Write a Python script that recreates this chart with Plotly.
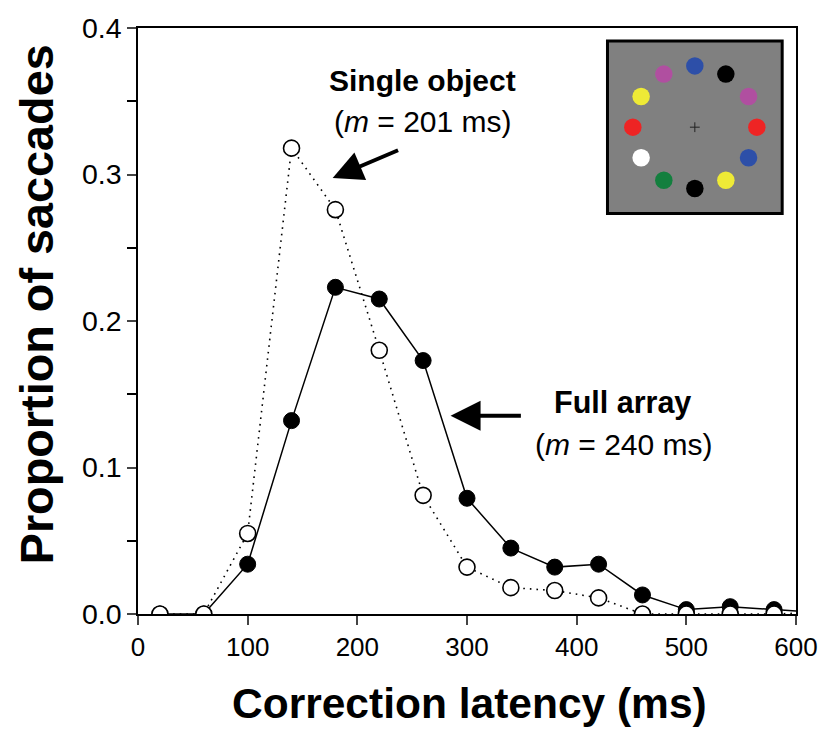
import plotly.graph_objects as go
import math

# ---- data ----
latency = [20, 60, 100, 140, 180, 220, 260, 300, 340, 380, 420, 460, 500, 540, 580, 620]
full_array = [0.0, 0.0, 0.034, 0.132, 0.223, 0.215, 0.173, 0.079, 0.045, 0.032, 0.034, 0.013, 0.003, 0.005, 0.003, 0.001]
single_object = [0.0, 0.0, 0.055, 0.318, 0.276, 0.180, 0.081, 0.032, 0.018, 0.016, 0.011, 0.0, 0.0, 0.0, 0.0, 0.001]

x_ticks = [0, 100, 200, 300, 400, 500, 600]
y_ticks = [0.0, 0.1, 0.2, 0.3, 0.4]

# inset stimulus display: 12 items clockwise from top
inset_angles_deg = [0, 30, 60, 90, 120, 150, 180, 210, 240, 270, 300, 330]
inset_colors = ["#2d4fa8", "#000000", "#b04fa0", "#ee2424", "#2d4fa8", "#eeea36",
                "#000000", "#137f3e", "#ffffff", "#ee2424", "#eeea36", "#b04fa0"]

FONT = "Liberation Sans, Arial, sans-serif"

ring_r = 0.71
inset_x = [ring_r * math.sin(math.radians(a)) for a in inset_angles_deg]
inset_y = [ring_r * math.cos(math.radians(a)) for a in inset_angles_deg]

fig = go.Figure()

fig.add_trace(go.Scatter(
    x=latency, y=full_array, mode="lines+markers", name="Full array",
    line=dict(color="black", width=1.5),
    marker=dict(size=16, color="black", line=dict(color="black", width=1)),
))
fig.add_trace(go.Scatter(
    x=latency, y=single_object, mode="lines+markers", name="Single object",
    line=dict(color="black", width=1.6, dash="1.6px,5px"),
    marker=dict(size=16, color="white", line=dict(color="black", width=1.6)),
))

# inset
fig.add_trace(go.Scatter(
    x=inset_x, y=inset_y, mode="markers", xaxis="x2", yaxis="y2",
    marker=dict(size=17.5, color=inset_colors, line=dict(width=0)),
    showlegend=False, hoverinfo="skip",
))
fig.add_trace(go.Scatter(
    x=[0], y=[0], mode="markers", xaxis="x2", yaxis="y2",
    marker=dict(size=7, symbol="cross-thin", color="black", line=dict(width=1, color="#222")),
    showlegend=False, hoverinfo="skip",
))

fig.add_shape(type="rect", xref="x2 domain", yref="y2 domain", x0=0, x1=1, y0=0, y1=1,
              fillcolor="#808080", line=dict(color="black", width=3), layer="below")

annotations = [
    dict(x=259.5, y=0.3645, xref="x", yref="y", text="<b>Single object</b>", showarrow=False,
         font=dict(size=30, family=FONT, color="black")),
    dict(x=259.5, y=0.3365, xref="x", yref="y", text="(<i>m</i> = 201 ms)", showarrow=False,
         font=dict(size=30, family=FONT, color="black")),
    dict(x=441.5, y=0.1445, xref="x", yref="y", text="<b>Full array</b>", showarrow=False,
         font=dict(size=30.5, family=FONT, color="black")),
    dict(x=443.5, y=0.116, xref="x", yref="y", text="(<i>m</i> = 240 ms)", showarrow=False,
         font=dict(size=30, family=FONT, color="black")),
    # arrows
    dict(x=177.5, y=0.2976, ax=238.5, ay=0.317, xref="x", yref="y", axref="x", ayref="y",
         text="", showarrow=True, arrowhead=2, arrowsize=1.5, arrowwidth=4, arrowcolor="black"),
    dict(x=285, y=0.1354, ax=350.5, ay=0.1354, xref="x", yref="y", axref="x", ayref="y",
         text="", showarrow=True, arrowhead=2, arrowsize=1.5, arrowwidth=4, arrowcolor="black"),
    # axis titles
    dict(x=0.504, y=-0.153, xref="paper", yref="paper", text="<b>Correction latency (ms)</b>",
         showarrow=False, font=dict(size=42.5, family=FONT, color="black"), xanchor="center", yanchor="middle"),
    dict(x=-0.153, y=0.529, xref="paper", yref="paper", text="<b>Proportion of saccades</b>",
         showarrow=False, textangle=-90, font=dict(size=46.8, family=FONT, color="black"),
         xanchor="center", yanchor="middle"),
]

fig.update_layout(
    width=830, height=744,
    margin=dict(l=138, r=33, t=20, b=130),
    paper_bgcolor="white", plot_bgcolor="rgba(0,0,0,0)",
    showlegend=False,
    font=dict(family=FONT, color="black"),
    annotations=annotations,
    xaxis=dict(range=[0, 600], tickvals=x_ticks, ticks="outside", ticklen=9, tickwidth=1.5,
               showline=True, linecolor="black", linewidth=1.5, mirror=True,
               showgrid=False, zeroline=False, tickfont=dict(size=26, family=FONT, color="black")),
    yaxis=dict(range=[0, 0.4], tickvals=y_ticks, tickformat=".1f", ticks="outside", ticklen=9,
               tickwidth=1.5, showline=True, linecolor="black", linewidth=1.5, mirror=True,
               showgrid=False, zeroline=False, tickfont=dict(size=28.5, family=FONT, color="black"),
               minor=dict(dtick=0.05, ticks="outside", ticklen=9, tickwidth=1.5, tickcolor="black",
                          showgrid=False)),
    xaxis2=dict(domain=[0.7135, 0.979], range=[-1, 1], visible=False, fixedrange=True),
    yaxis2=dict(domain=[0.6835, 0.978], range=[-1, 1], visible=False, fixedrange=True),
)

fig.write_html("out.html")
